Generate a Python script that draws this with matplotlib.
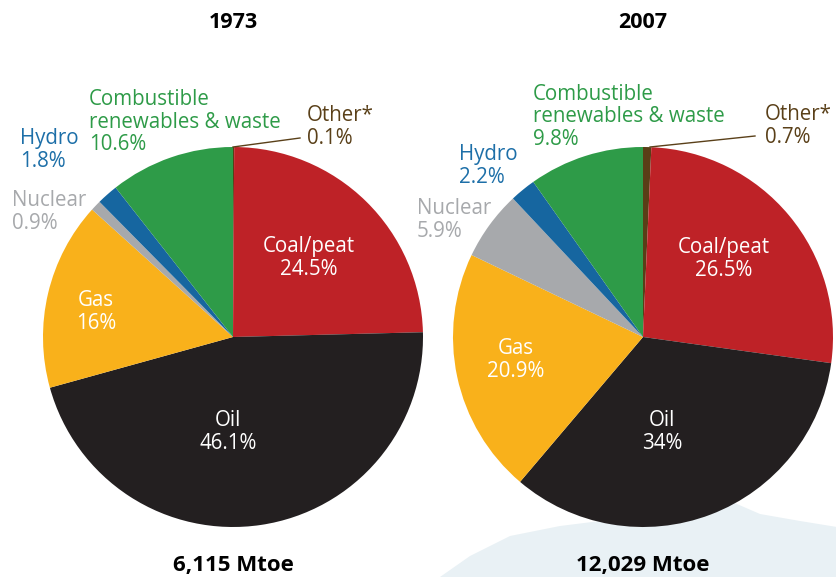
import matplotlib.pyplot as plt
from matplotlib.patches import Polygon

# shares of total primary energy supply (%), clockwise from 12 o'clock
fuels = ["Other*", "Coal/peat", "Oil", "Gas", "Nuclear", "Hydro",
         "Combustible\nrenewables & waste"]
share_1973 = [0.1, 24.5, 46.1, 16, 0.9, 1.8, 10.6]
share_2007 = [0.7, 26.5, 34, 20.9, 5.9, 2.2, 9.8]
labels_1973 = ["0.1%", "24.5%", "46.1%", "16%", "0.9%", "1.8%", "10.6%"]
labels_2007 = ["0.7%", "26.5%", "34%", "20.9%", "5.9%", "2.2%", "9.8%"]
years = ["1973", "2007"]
totals = ["6,115 Mtoe", "12,029 Mtoe"]

colors = ["#5a3e17", "#be2227", "#231f20", "#f9b11b", "#a7a9ac", "#1666a0", "#2e9b48"]
label_colors = ["#5a4019", "white", "white", "white", "#a7a9ac", "#1d6fa8", "#2e9b48"]

W, H = 837, 577
plt.rcParams["font.family"] = ["Open Sans", "DejaVu Sans"]

fig = plt.figure(figsize=(W / 100, H / 100), dpi=100)
ax = fig.add_axes([0, 0, 1, 1])

# faint background shape bottom right
bg = [(440, 577), (470, 556), (510, 536), (560, 526), (600, 521), (700, 506),
      (730, 501), (760, 514), (800, 521), (837, 527), (837, 577)]
ax.add_patch(Polygon([(x, H - y) for x, y in bg], closed=True,
                     facecolor="#e9f1f5", edgecolor="none", zorder=0))

centers = [(233, 337), (643, 337)]
radius = 190
for (cx, cy), vals in zip(centers, [share_1973, share_2007]):
    ax.pie(vals, colors=colors, startangle=90, counterclock=False,
           center=(cx, H - cy), radius=radius, frame=True,
           wedgeprops=dict(linewidth=0, zorder=2))

# label block centres in pixels (x, y, ha)
pos_1973 = [(307, 127, "left"), (309, 258, "center"), (228, 432, "center"),
            (96, 312, "center"), (12, 212, "left"), (20, 150, "left"), (89, 122, "left")]
pos_2007 = [(765, 126, "left"), (724, 259, "center"), (662, 432, "center"),
            (516, 360, "center"), (417, 220, "left"), (459, 166, "left"), (533, 117, "left")]

fs = 14.8
for pos, labs in [(pos_1973, labels_1973), (pos_2007, labels_2007)]:
    for name, lab, (x, y, ha), c in zip(fuels, labs, pos, label_colors):
        ax.text(x, H - y, name + "\n" + lab, ha=ha, va="center", color=c,
                fontsize=fs, linespacing=1.12, zorder=5)

# leader lines for Other*
ax.plot([233, 300], [H - 147, H - 138], color="#5a4019", lw=1, zorder=4)
ax.plot([650, 755], [H - 147, H - 136], color="#5a4019", lw=1, zorder=4)

for (cx, cy), yr, tot in zip(centers, years, totals):
    ax.text(cx, H - 22, yr, ha="center", va="center", fontsize=15.5,
            fontweight="bold", color="black")
    ax.text(cx, H - 566, tot, ha="center", va="center", fontsize=16,
            fontweight="bold", color="black", zorder=5)

ax.set_xlim(0, W)
ax.set_ylim(0, H)
ax.set_aspect("auto")
ax.axis("off")

fig.savefig("out.png", dpi=100)
